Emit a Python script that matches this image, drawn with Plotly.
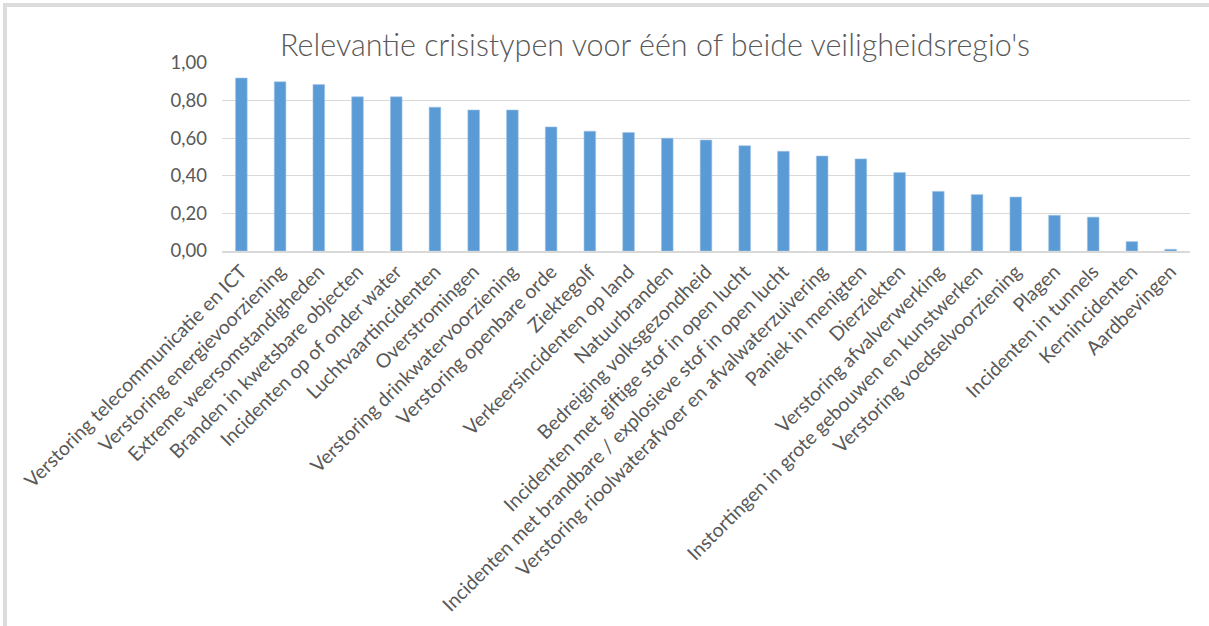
import plotly.graph_objects as go

categories = [
    "Verstoring telecommunicatie en ICT",
    "Verstoring energievoorziening",
    "Extreme weersomstandigheden",
    "Branden in kwetsbare objecten",
    "Incidenten op of onder water",
    "Luchtvaartincidenten",
    "Overstromingen",
    "Verstoring drinkwatervoorziening",
    "Verstoring openbare orde",
    "Ziektegolf",
    "Verkeersincidenten op land",
    "Natuurbranden",
    "Bedreiging volksgezondheid",
    "Incidenten met giftige stof in open lucht",
    "Incidenten met brandbare / explosieve stof in open lucht",
    "Verstoring rioolwaterafvoer en afvalwaterzuivering",
    "Paniek in menigten",
    "Dierziekten",
    "Verstoring afvalverwerking",
    "Instortingen in grote gebouwen en kunstwerken",
    "Verstoring voedselvoorziening",
    "Plagen",
    "Incidenten in tunnels",
    "Kernincidenten",
    "Aardbevingen",
]
values = [0.92, 0.90, 0.885, 0.82, 0.82, 0.765, 0.75, 0.75, 0.66, 0.637, 0.63,
          0.60, 0.59, 0.56, 0.53, 0.505, 0.49, 0.417, 0.317, 0.30, 0.287,
          0.19, 0.18, 0.05, 0.009]
y_ticks = [0.0, 0.2, 0.4, 0.6, 0.8, 1.0]

W, H = 1209, 626
L, R, T, B = 222, 19, 63, 375
pw, ph = W - L - R, H - T - B

fig = go.Figure(go.Bar(
    x=categories, y=values,
    marker=dict(color="#5B9BD5", line=dict(color="#9DC3E6", width=0.6)),
))

def px_x(p):
    return (p - L) / pw

def px_y(p):
    return (H - B - p) / ph

fig.update_layout(
    width=W, height=H,
    margin=dict(l=L, r=R, t=T, b=B),
    paper_bgcolor="white", plot_bgcolor="white",
    separators=",.",
    bargap=0.7,
    showlegend=False,
    title=dict(
        text="Relevantie crisistypen voor één of beide veiligheidsregio's",
        x=655 / W, xref="container", xanchor="center",
        y=1 - 45 / H, yref="container", yanchor="middle",
        font=dict(family="Lato", size=30.5, color="#595959", weight=300),
    ),
    xaxis=dict(
        tickangle=-45,
        tickfont=dict(family="Lato", size=19.4, color="#595959"),
        showgrid=False, showline=True, linecolor="#D9D9D9", linewidth=1.5,
        ticks="", automargin=False,
    ),
    yaxis=dict(
        range=[0, 1], tickvals=y_ticks, tickformat=".2f",
        tickfont=dict(family="Lato", size=18.5, color="#595959"),
        showgrid=True, gridcolor="#D9D9D9", gridwidth=1,
        zeroline=False, showline=False, ticks="", ticklabelstandoff=14,
        automargin=False,
    ),
    shapes=[
        dict(type="rect", xref="paper", yref="paper",
             x0=px_x(3), x1=px_x(W + 10), y0=px_y(7), y1=px_y(3),
             fillcolor="#DCDCDC", line=dict(width=0), layer="above"),
        dict(type="rect", xref="paper", yref="paper",
             x0=px_x(3), x1=px_x(7), y0=px_y(H + 10), y1=px_y(3),
             fillcolor="#DCDCDC", line=dict(width=0), layer="above"),
    ],
)

fig.write_html("out.html", config={"displayModeBar": False},
               post_script="document.body.style.margin='0';document.body.style.overflow='hidden';")
